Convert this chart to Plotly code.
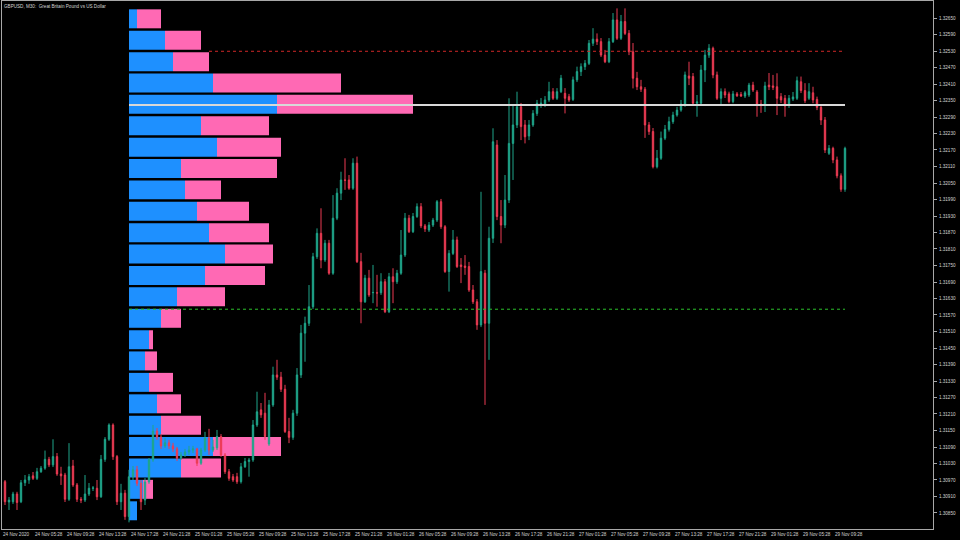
import plotly.graph_objects as go

chart_title = "GBPUSD, M30:  Great Britain Pound vs US Dollar"

# ---------------- candle data (M30 bars, index 0..210) ----------------
opens = [
    1.30964, 1.30890, 1.30891, 1.30919, 1.30891, 1.30960, 1.30970, 1.30985, 1.30976, 1.31000,
    1.31013, 1.31045, 1.31025, 1.31055, 1.30992, 1.30988, 1.30900, 1.31021, 1.30952, 1.30900,
    1.30897, 1.30919, 1.30940, 1.30940, 1.30909, 1.31045, 1.31118, 1.31170, 1.31055, 1.30891,
    1.30922, 1.30837, 1.30982, 1.31007, 1.30958, 1.30897, 1.30963, 1.31043, 1.31148, 1.31126,
    1.31094, 1.31105, 1.31094, 1.31083, 1.31050, 1.31061, 1.31072, 1.31079, 1.31083, 1.31031,
    1.31079, 1.31123, 1.31079, 1.31087, 1.31128, 1.31061, 1.31000, 1.30982, 1.30982, 1.30964,
    1.31018, 1.31037, 1.31043, 1.31170, 1.31225, 1.31213, 1.31101, 1.31243, 1.31352, 1.31344,
    1.31300, 1.31146, 1.31125, 1.31213, 1.31352, 1.31504, 1.31540, 1.31600, 1.31782, 1.31867,
    1.31770, 1.31831, 1.31722, 1.31922, 1.32013, 1.32061, 1.32061, 1.32031, 1.32122, 1.31764,
    1.31618, 1.31704, 1.31651, 1.31651, 1.31651, 1.31691, 1.31582, 1.31709, 1.31691, 1.31722,
    1.31788, 1.31922, 1.31873, 1.31928, 1.31964, 1.31894, 1.31879, 1.31897, 1.31915, 1.31982,
    1.31891, 1.31728, 1.31794, 1.31843, 1.31752, 1.31748, 1.31746, 1.31661, 1.31618, 1.31534,
    1.31722, 1.31540, 1.31849, 1.32188, 1.31928, 1.31897, 1.31988, 1.32194, 1.32261, 1.32327,
    1.32261, 1.32221, 1.32261, 1.32303, 1.32337, 1.32334, 1.32352, 1.32382, 1.32358, 1.32382,
    1.32376, 1.32364, 1.32354, 1.32425, 1.32455, 1.32473, 1.32485, 1.32558, 1.32573, 1.32564,
    1.32515, 1.32491, 1.32564, 1.32643, 1.32576, 1.32637, 1.32594, 1.32527, 1.32431, 1.32400,
    1.32391, 1.32261, 1.32237, 1.32109, 1.32140, 1.32213, 1.32245, 1.32273, 1.32297, 1.32315,
    1.32337, 1.32439, 1.32437, 1.32340, 1.32340, 1.32461, 1.32515, 1.32540, 1.32443, 1.32358,
    1.32382, 1.32374, 1.32346, 1.32374, 1.32372, 1.32366, 1.32370, 1.32406, 1.32381, 1.32337,
    1.32334, 1.32406, 1.32403, 1.32400, 1.32364, 1.32358, 1.32334, 1.32355, 1.32358, 1.32418,
    1.32386, 1.32358, 1.32378, 1.32354, 1.32325, 1.32279, 1.32158, 1.32176, 1.32134, 1.32076,
    1.32027,
]
highs = [
    1.30970, 1.30908, 1.30927, 1.30927, 1.30970, 1.30988, 1.30992, 1.30999, 1.31014, 1.31021,
    1.31077, 1.31054, 1.31118, 1.31068, 1.31018, 1.30996, 1.31104, 1.31043, 1.30959, 1.30908,
    1.30988, 1.30959, 1.30948, 1.30970, 1.31061, 1.31126, 1.31176, 1.31176, 1.31061, 1.30956,
    1.30934, 1.31007, 1.31021, 1.31021, 1.30970, 1.30977, 1.31050, 1.31170, 1.31159, 1.31137,
    1.31123, 1.31116, 1.31105, 1.31090, 1.31072, 1.31083, 1.31094, 1.31094, 1.31087, 1.31087,
    1.31145, 1.31156, 1.31116, 1.31152, 1.31137, 1.31068, 1.31010, 1.30992, 1.30996, 1.31032,
    1.31050, 1.31050, 1.31188, 1.31291, 1.31250, 1.31287, 1.31261, 1.31382, 1.31407, 1.31363,
    1.31316, 1.31196, 1.31225, 1.31377, 1.31534, 1.31564, 1.31679, 1.31796, 1.31885, 1.31958,
    1.31843, 1.31843, 1.32006, 1.32031, 1.32091, 1.32140, 1.32079, 1.32140, 1.32146, 1.31796,
    1.31716, 1.31734, 1.31752, 1.31716, 1.31722, 1.31701, 1.31723, 1.31740, 1.31734, 1.31879,
    1.31941, 1.31934, 1.31941, 1.31976, 1.31977, 1.31901, 1.31908, 1.31923, 1.31988, 1.31992,
    1.31897, 1.31806, 1.31879, 1.31855, 1.31777, 1.31788, 1.31763, 1.31679, 1.31628, 1.32018,
    1.31734, 1.31891, 1.32249, 1.32206, 1.31988, 1.32079, 1.32358, 1.32334, 1.32382, 1.32341,
    1.32279, 1.32279, 1.32315, 1.32352, 1.32359, 1.32366, 1.32418, 1.32395, 1.32395, 1.32443,
    1.32395, 1.32374, 1.32437, 1.32473, 1.32485, 1.32497, 1.32570, 1.32613, 1.32594, 1.32577,
    1.32534, 1.32577, 1.32668, 1.32685, 1.32661, 1.32685, 1.32606, 1.32559, 1.32454, 1.32425,
    1.32399, 1.32272, 1.32250, 1.32170, 1.32237, 1.32261, 1.32291, 1.32309, 1.32327, 1.32352,
    1.32455, 1.32491, 1.32450, 1.32370, 1.32479, 1.32534, 1.32555, 1.32546, 1.32455, 1.32394,
    1.32394, 1.32382, 1.32385, 1.32381, 1.32381, 1.32385, 1.32414, 1.32418, 1.32388, 1.32352,
    1.32418, 1.32450, 1.32443, 1.32449, 1.32377, 1.32370, 1.32370, 1.32381, 1.32437, 1.32437,
    1.32413, 1.32413, 1.32400, 1.32364, 1.32337, 1.32290, 1.32188, 1.32182, 1.32146, 1.32085,
    1.32182,
]
lows = [
    1.30879, 1.30861, 1.30883, 1.30861, 1.30886, 1.30948, 1.30956, 1.30970, 1.30970, 1.30996,
    1.31007, 1.31017, 1.31017, 1.30985, 1.30952, 1.30890, 1.30894, 1.30945, 1.30890, 1.30886,
    1.30890, 1.30912, 1.30930, 1.30897, 1.30905, 1.31036, 1.31112, 1.31043, 1.30879, 1.30861,
    1.30825, 1.30816, 1.30970, 1.30948, 1.30861, 1.30879, 1.30956, 1.31036, 1.31116, 1.31083,
    1.31087, 1.31083, 1.31072, 1.31039, 1.31043, 1.31054, 1.31061, 1.31068, 1.31021, 1.31025,
    1.31072, 1.31061, 1.31072, 1.31079, 1.31054, 1.30992, 1.30967, 1.30963, 1.30956, 1.30957,
    1.31014, 1.30982, 1.31036, 1.31163, 1.31196, 1.31116, 1.31094, 1.31236, 1.31334, 1.31290,
    1.31141, 1.31104, 1.31116, 1.31203, 1.31341, 1.31400, 1.31530, 1.31592, 1.31774, 1.31740,
    1.31763, 1.31716, 1.31716, 1.31915, 1.31988, 1.32025, 1.32025, 1.32025, 1.31759, 1.31540,
    1.31614, 1.31636, 1.31613, 1.31600, 1.31643, 1.31577, 1.31577, 1.31613, 1.31683, 1.31716,
    1.31781, 1.31868, 1.31868, 1.31923, 1.31886, 1.31872, 1.31872, 1.31890, 1.31908, 1.31883,
    1.31723, 1.31655, 1.31788, 1.31741, 1.31686, 1.31716, 1.31654, 1.31610, 1.31516, 1.31526,
    1.31243, 1.31407, 1.31832, 1.31915, 1.31831, 1.31886, 1.31977, 1.32061, 1.32250, 1.32206,
    1.32194, 1.32206, 1.32254, 1.32294, 1.32323, 1.32326, 1.32345, 1.32352, 1.32352, 1.32377,
    1.32303, 1.32345, 1.32348, 1.32417, 1.32439, 1.32461, 1.32479, 1.32548, 1.32552, 1.32508,
    1.32486, 1.32486, 1.32559, 1.32570, 1.32570, 1.32588, 1.32515, 1.32394, 1.32388, 1.32381,
    1.32214, 1.32225, 1.32103, 1.32103, 1.32134, 1.32206, 1.32237, 1.32265, 1.32291, 1.32309,
    1.32327, 1.32406, 1.32334, 1.32291, 1.32334, 1.32417, 1.32505, 1.32431, 1.32352, 1.32334,
    1.32359, 1.32340, 1.32340, 1.32363, 1.32363, 1.32359, 1.32363, 1.32381, 1.32291, 1.32305,
    1.32308, 1.32388, 1.32388, 1.32297, 1.32341, 1.32291, 1.32323, 1.32348, 1.32352, 1.32377,
    1.32341, 1.32352, 1.32340, 1.32315, 1.32261, 1.32159, 1.32152, 1.32122, 1.32067, 1.32018,
    1.32018,
]
closes = [
    1.30891, 1.30897, 1.30919, 1.30888, 1.30960, 1.30970, 1.30982, 1.30976, 1.31000, 1.31013,
    1.31045, 1.31025, 1.31055, 1.30992, 1.30985, 1.30900, 1.31018, 1.30952, 1.30900, 1.30897,
    1.30919, 1.30940, 1.30941, 1.30909, 1.31045, 1.31118, 1.31170, 1.31055, 1.30891, 1.30922,
    1.30837, 1.30982, 1.31007, 1.30958, 1.30891, 1.30963, 1.31043, 1.31148, 1.31126, 1.31094,
    1.31105, 1.31094, 1.31083, 1.31049, 1.31061, 1.31072, 1.31079, 1.31083, 1.31031, 1.31079,
    1.31123, 1.31079, 1.31090, 1.31128, 1.31061, 1.31000, 1.30976, 1.30970, 1.30964, 1.31018,
    1.31037, 1.31043, 1.31170, 1.31218, 1.31207, 1.31128, 1.31243, 1.31352, 1.31344, 1.31300,
    1.31146, 1.31125, 1.31213, 1.31352, 1.31504, 1.31540, 1.31600, 1.31782, 1.31867, 1.31770,
    1.31831, 1.31722, 1.31922, 1.32013, 1.32061, 1.32060, 1.32031, 1.32122, 1.31764, 1.31618,
    1.31704, 1.31643, 1.31652, 1.31650, 1.31691, 1.31582, 1.31709, 1.31691, 1.31722, 1.31788,
    1.31922, 1.31873, 1.31928, 1.31964, 1.31894, 1.31883, 1.31897, 1.31915, 1.31982, 1.31891,
    1.31728, 1.31794, 1.31843, 1.31746, 1.31746, 1.31743, 1.31661, 1.31618, 1.31534, 1.31728,
    1.31540, 1.31849, 1.32200, 1.31928, 1.31897, 1.31988, 1.32194, 1.32261, 1.32327, 1.32255,
    1.32218, 1.32261, 1.32303, 1.32340, 1.32340, 1.32352, 1.32382, 1.32358, 1.32382, 1.32431,
    1.32358, 1.32352, 1.32425, 1.32455, 1.32473, 1.32485, 1.32558, 1.32573, 1.32564, 1.32515,
    1.32491, 1.32564, 1.32643, 1.32576, 1.32637, 1.32594, 1.32527, 1.32431, 1.32400, 1.32391,
    1.32261, 1.32237, 1.32109, 1.32140, 1.32213, 1.32245, 1.32273, 1.32297, 1.32315, 1.32337,
    1.32443, 1.32431, 1.32340, 1.32345, 1.32461, 1.32515, 1.32540, 1.32443, 1.32358, 1.32382,
    1.32370, 1.32346, 1.32374, 1.32367, 1.32366, 1.32378, 1.32406, 1.32388, 1.32337, 1.32334,
    1.32403, 1.32400, 1.32398, 1.32358, 1.32352, 1.32330, 1.32358, 1.32363, 1.32422, 1.32386,
    1.32349, 1.32382, 1.32352, 1.32325, 1.32279, 1.32170, 1.32176, 1.32134, 1.32076, 1.32027,
    1.32176,
]
bar_index = list(range(len(closes)))

# ---------------- volume profile (24 price rows, top to bottom) ----------------
profile_prices = [
    1.32647, 1.32569, 1.32491, 1.32414, 1.32336, 1.32258, 1.32180, 1.32103,
    1.32025, 1.31947, 1.31869, 1.31792, 1.31714, 1.31636, 1.31558, 1.31480,
    1.31403, 1.31325, 1.31247, 1.31169, 1.31092, 1.31014, 1.30936, 1.30858,
]
buy_volume = [8, 36, 44, 84, 148, 72, 88, 52, 56, 68, 80, 96,
              76, 48, 32, 20, 16, 20, 28, 32, 84, 52, 14, 8]
sell_volume = [24, 36, 36, 128, 136, 68, 64, 96, 36, 52, 60, 48,
               60, 48, 20, 4, 12, 24, 24, 40, 68, 40, 10, 0]
row_height = 0.00069

poc_price = 1.32334
vah_price = 1.32529
val_price = 1.31591
profile_start_bar = 31
vah_start_bar = 51
last_bar = 210

# ---------------- axis labels ----------------
price_ticks = [
    1.32650, 1.32590, 1.32530, 1.32470, 1.32410, 1.32350, 1.32290, 1.32230,
    1.32170, 1.32110, 1.32050, 1.31990, 1.31930, 1.31870, 1.31810, 1.31750,
    1.31690, 1.31630, 1.31570, 1.31510, 1.31450, 1.31390, 1.31330, 1.31270,
    1.31210, 1.31150, 1.31090, 1.31030, 1.30970, 1.30910, 1.30850,
]
price_tick_text = [f"{v:.5f}" for v in price_ticks]

time_tick_bars = [0, 8, 16, 24, 32, 40, 48, 56, 64, 72, 80, 88, 96, 104,
                  112, 120, 128, 136, 144, 152, 160, 168, 176, 184, 192, 200, 208]
time_tick_text = [
    "24 Nov 2020", "24 Nov 05:28", "24 Nov 09:28", "24 Nov 13:28", "24 Nov 17:28",
    "24 Nov 21:28", "25 Nov 01:28", "25 Nov 05:28", "25 Nov 09:28", "25 Nov 13:28",
    "25 Nov 17:28", "25 Nov 21:28", "26 Nov 01:28", "26 Nov 05:28", "26 Nov 09:28",
    "26 Nov 13:28", "26 Nov 17:28", "26 Nov 21:28", "27 Nov 01:28", "27 Nov 05:28",
    "27 Nov 09:28", "27 Nov 13:28", "27 Nov 17:28", "27 Nov 21:28", "29 Nov 01:28",
    "29 Nov 05:28", "29 Nov 09:28",
]

BULL = "#1fa58a"
BEAR = "#ec3b53"
BUY = "#1e90ff"
SELL = "#ff69b4"
FRAME = "#a8a8a8"
TEXT = "#d4d4d4"
FONT = "Liberation Sans, Arial, sans-serif"
FSIZE = 4.6

fig = go.Figure()

# volume profile (drawn underneath)
fig.add_trace(go.Bar(
    y=profile_prices, x=buy_volume, base=[0] * len(buy_volume), orientation="h",
    width=row_height, marker=dict(color=BUY, line=dict(width=0)),
    xaxis="x", yaxis="y", showlegend=False, hoverinfo="skip",
))
fig.add_trace(go.Bar(
    y=profile_prices, x=sell_volume, base=buy_volume, orientation="h",
    width=row_height, marker=dict(color=SELL, line=dict(width=0)),
    xaxis="x", yaxis="y", showlegend=False, hoverinfo="skip",
))

# candles
fig.add_trace(go.Candlestick(
    x=bar_index, open=opens, high=highs, low=lows, close=closes,
    increasing=dict(line=dict(color=BULL, width=1), fillcolor=BULL),
    decreasing=dict(line=dict(color=BEAR, width=1), fillcolor=BEAR),
    whiskerwidth=0, xaxis="x2", yaxis="y", showlegend=False, hoverinfo="skip",
))

# value area / POC lines
fig.add_trace(go.Scatter(
    x=[vah_start_bar, last_bar], y=[vah_price, vah_price], mode="lines",
    line=dict(color="#d02828", width=1, dash="dot"),
    xaxis="x2", yaxis="y", showlegend=False, hoverinfo="skip",
))
fig.add_trace(go.Scatter(
    x=[profile_start_bar, last_bar], y=[val_price, val_price], mode="lines",
    line=dict(color="#2cc02c", width=1, dash="dot"),
    xaxis="x2", yaxis="y", showlegend=False, hoverinfo="skip",
))
fig.add_trace(go.Scatter(
    x=[profile_start_bar, last_bar], y=[poc_price, poc_price], mode="lines",
    line=dict(color="#d8d8d8", width=2),
    xaxis="x2", yaxis="y", showlegend=False, hoverinfo="skip",
))

annotations = [
    dict(text=chart_title, xref="paper", yref="paper", x=0, y=1,
         xanchor="left", yanchor="top", xshift=0, yshift=-1, showarrow=False,
         font=dict(family=FONT, size=FSIZE, color=TEXT)),
]
for b, t in zip(time_tick_bars, time_tick_text):
    annotations.append(dict(
        text=t, xref="x2", yref="paper", x=b, y=0, xanchor="left", yanchor="top",
        xshift=-4, yshift=-1, showarrow=False,
        font=dict(family=FONT, size=FSIZE, color=TEXT),
    ))

fig.update_layout(
    width=960, height=540,
    paper_bgcolor="black", plot_bgcolor="black",
    margin=dict(l=2, r=27, t=1, b=11),
    barmode="overlay", boxgap=0.5, hovermode=False,
    showlegend=False,
    xaxis=dict(range=[-127, 804], showgrid=False, zeroline=False,
               showticklabels=False, ticks="", showline=True, linecolor=FRAME,
               linewidth=1, mirror=True, fixedrange=True),
    xaxis2=dict(range=[-0.75, 232], overlaying="x", anchor="y", visible=False,
                rangeslider=dict(visible=False), fixedrange=True),
    yaxis=dict(range=[1.307918, 1.327118], side="right", showgrid=False,
               zeroline=False, showline=True, linecolor=FRAME, linewidth=1,
               mirror=True, ticks="outside", ticklen=3, tickcolor=FRAME,
               ticklabelstandoff=1,
               tickvals=price_ticks, ticktext=price_tick_text,
               tickfont=dict(family=FONT, size=FSIZE, color=TEXT), fixedrange=True),
    annotations=annotations,
)

fig.write_html(
    "out.html",
    config={"displayModeBar": False, "staticPlot": True},
    post_script="document.body.style.margin='0px';document.body.style.background='black';",
)
